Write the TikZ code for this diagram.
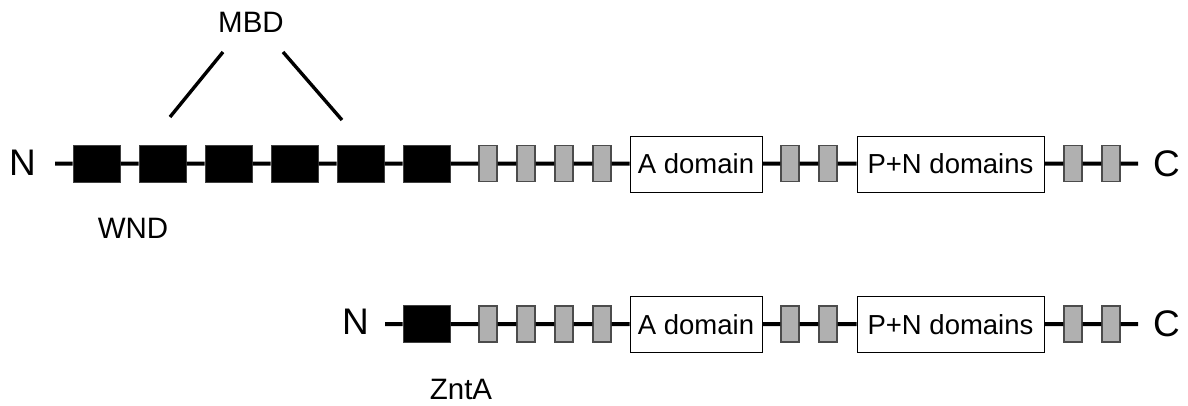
\documentclass[tikz,border=0pt]{standalone}
\usepackage{fontspec}
\setmainfont{Liberation Sans}
\begin{document}
\begin{tikzpicture}[x=1pt,y=-1pt,
  wnd/.style={draw=black!75,line width=1pt,fill=black,minimum width=47pt,minimum height=37pt,inner sep=0pt},
  tm/.style={draw=black!70,line width=1.2pt,fill=black!31,minimum width=18pt,minimum height=36pt,inner sep=0pt},
  dom/.style={draw=black,line width=0.9pt,fill=white,minimum height=56pt,inner sep=0pt,font=\fontsize{27.5}{30}\selectfont},
  term/.style={inner sep=0pt,font=\fontsize{37}{40}\selectfont},
  lab/.style={inner sep=0pt,font=\fontsize{29.5}{32}\selectfont},
  backbone/.style={line width=4pt},
  link/.style={line width=3.4pt}]
\useasboundingbox (0,0) rectangle (1188,405);
% top protein
\node[term] (N1) at (22.5,162.5) {N};
\coordinate (s1) at (55,163.5);
\node[wnd] (w1) at (96.5,163.5) {};
\node[wnd] (w2) at (162.5,163.5) {};
\node[wnd] (w3) at (228.5,163.5) {};
\node[wnd] (w4) at (294.5,163.5) {};
\node[wnd] (w5) at (360.5,163.5) {};
\node[wnd] (w6) at (426.5,163.5) {};
\node[tm] (t1) at (488,163.5) {};
\node[tm] (t2) at (526,163.5) {};
\node[tm] (t3) at (564,163.5) {};
\node[tm] (t4) at (602,163.5) {};
\node[dom,minimum width=132pt] (a1) at (696,164) {A domain};
\node[tm] (t5) at (790,163.5) {};
\node[tm] (t6) at (828,163.5) {};
\node[dom,minimum width=187pt] (p1) at (950.5,164) {P+N domains};
\node[tm] (t7) at (1073,163.5) {};
\node[tm] (t8) at (1111,163.5) {};
\coordinate (e1) at (1138,163.5);
\node[term] (C1) at (1166.5,163.5) {C};
\draw[backbone] (s1) -- (w1) -- (w2) -- (w3) -- (w4) -- (w5) -- (w6) -- (t1) -- (t2) -- (t3) -- (t4) -- (a1) -- (t5) -- (t6) -- (p1) -- (t7) -- (t8) -- (e1);
\node[lab] (wndl) at (133,228) {WND};
\node[lab] (mbd) at (251,22.5) {MBD};
\coordinate (m1) at (223,52);
\coordinate (m1e) at (170,117);
\coordinate (m2) at (283,52);
\coordinate (m2e) at (342,120);
\draw[link] (m1) -- (m1e);
\draw[link] (m2) -- (m2e);
% bottom protein
\node[term] (N2) at (355.5,322) {N};
\coordinate (s2) at (385,324);
\node[wnd] (z1) at (426.5,324) {};
\node[tm] (u1) at (488,324) {};
\node[tm] (u2) at (526,324) {};
\node[tm] (u3) at (564,324) {};
\node[tm] (u4) at (602,324) {};
\node[dom,minimum width=132pt] (a2) at (696,324.5) {A domain};
\node[tm] (u5) at (790,324) {};
\node[tm] (u6) at (828,324) {};
\node[dom,minimum width=187pt] (p2) at (950.5,324.5) {P+N domains};
\node[tm] (u7) at (1073,324) {};
\node[tm] (u8) at (1111,324) {};
\coordinate (e2) at (1138,324);
\node[term] (C2) at (1166.5,324) {C};
\draw[backbone] (s2) -- (z1) -- (u1) -- (u2) -- (u3) -- (u4) -- (a2) -- (u5) -- (u6) -- (p2) -- (u7) -- (u8) -- (e2);
\node[lab] (znta) at (461,389) {ZntA};
\end{tikzpicture}
\end{document}
